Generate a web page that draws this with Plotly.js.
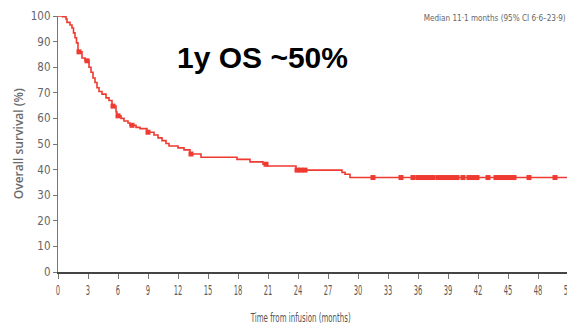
<!DOCTYPE html>
<html>
<head>
<meta charset="utf-8">
<script src="https://cdn.plot.ly/plotly-3.0.1.min.js"></script>
<style>
  html, body { margin: 0; padding: 0; background: #fff; overflow: hidden; }
  #chart { width: 568px; height: 325px; }
</style>
</head>
<body>
<div id="chart"></div>
<script>
// Kaplan–Meier overall survival: step times (months) and survival (%) after each step
const stepMonths = [0, 0.45, 0.8, 0.9, 1.2, 1.4, 1.55, 1.7, 1.85, 2.0, 2.4, 2.7, 3.1, 3.3, 3.5, 3.7, 3.9, 4.1,
  4.4, 4.8, 5.1, 5.4, 5.8, 5.9, 6.3, 6.6, 7.0, 7.2, 7.8, 8.2, 8.9, 9.6, 10.0, 10.4, 10.8, 11.1,
  12.0, 12.6, 13.2, 14.3, 17.9, 19.2, 20.5, 20.9, 23.8, 28.4, 28.7, 29.2];
const stepSurvival = [100, 99.7, 98.8, 97.5, 96.5, 95.3, 93.4, 91.5, 89.5, 86, 83.6, 82.5, 80, 78, 75.8, 74, 72, 70.5,
  69.5, 68, 67, 64.8, 62.5, 61, 60, 59, 58.2, 57.3, 56.5, 56, 54.6, 53.5, 52.4, 51.3, 50.2, 49.2,
  48.5, 47.7, 46.1, 44.8, 44.0, 43.0, 42.1, 41.4, 39.8, 38.9, 38.2, 36.9];
const lastMonth = 51;

// Censored patients (months)
const censorMonths = [2.1, 2.9, 5.5, 6.0, 7.4, 9.0, 13.3, 20.8, 23.9, 24.3, 24.7, 31.5, 34.3, 35.5,
  36.0, 36.4, 36.8, 37.2, 37.5, 38.0, 38.4, 38.8, 39.2, 39.6, 39.9, 40.5, 41.1, 41.5, 41.9,
  43.0, 43.8, 44.2, 44.6, 45.0, 45.3, 45.6, 47.1, 49.7];

const xTicks = [0, 3, 6, 9, 12, 15, 18, 21, 24, 27, 30, 33, 36, 39, 42, 45, 48, 51];
const yTicks = [0, 10, 20, 30, 40, 50, 60, 70, 80, 90, 100];

const headline = '1y OS ~50%';
const medianNote = 'Median 11·1 months (95% CI 6·6–23·9)';
const xLabel = 'Time from infusion (months)';
const yLabel = 'Overall survival (%)';

// survival at time t from the step function
function survivalAt(t) {
  let s = stepSurvival[0];
  for (let i = 0; i < stepMonths.length; i++) {
    if (stepMonths[i] <= t) s = stepSurvival[i]; else break;
  }
  return s;
}

const red = '#ee3a30';
const narrow = '"Liberation Sans Narrow", "DejaVu Sans Condensed", sans-serif';

const curve = {
  x: stepMonths.concat([lastMonth]),
  y: stepSurvival.concat([stepSurvival[stepSurvival.length - 1]]),
  mode: 'lines',
  line: { shape: 'hv', color: red, width: 1.6 },
  hoverinfo: 'skip',
  cliponaxis: false
};

const censors = {
  x: censorMonths,
  y: censorMonths.map(survivalAt),
  mode: 'markers',
  marker: { symbol: 'square', size: 5, color: red },
  hoverinfo: 'skip',
  cliponaxis: false
};

const layout = {
  width: 568,
  height: 325,
  margin: { l: 58, r: 0, t: 16, b: 53 },
  paper_bgcolor: '#fff',
  plot_bgcolor: '#fff',
  showlegend: false,
  xaxis: {
    range: [0, lastMonth],
    tickvals: xTicks,
    ticktext: xTicks.map(String),
    ticks: 'outside',
    ticklen: 5,
    tickwidth: 1,
    tickcolor: '#777',
    ticklabeloverflow: 'allow',
    showline: true,
    linecolor: '#444',
    linewidth: 1.5,
    showgrid: false,
    zeroline: false,
    tickfont: { family: narrow, size: 13.5, color: '#5c5c5c' }
  },
  yaxis: {
    range: [0, 100],
    tickvals: yTicks,
    ticktext: yTicks.map(String),
    ticks: 'outside',
    ticklen: 4,
    tickwidth: 1,
    tickcolor: '#777',
    showline: true,
    linecolor: '#777',
    linewidth: 1.2,
    showgrid: false,
    zeroline: false,
    tickfont: { family: narrow, size: 11.5, color: '#666' }
  },
  annotations: [
    {
      text: '<b>' + headline + '</b>',
      xref: 'paper', yref: 'paper', x: 0.40, y: 0.836,
      xanchor: 'center', yanchor: 'middle', showarrow: false,
      font: { family: '"Liberation Sans", Arial, sans-serif', size: 30, color: '#000' }
    },
    {
      text: medianNote,
      xref: 'paper', yref: 'paper', x: 0.855, y: 0.996,
      xanchor: 'center', yanchor: 'middle', showarrow: false,
      font: { family: narrow, size: 9.2, color: '#666' }
    },
    {
      text: xLabel,
      xref: 'paper', yref: 'paper', x: 0.4745, y: -0.18,
      xanchor: 'center', yanchor: 'middle', showarrow: false,
      font: { family: narrow, size: 12, color: '#555' }
    },
    {
      text: yLabel,
      xref: 'paper', yref: 'paper', x: -0.078, y: 0.5,
      xanchor: 'center', yanchor: 'middle', showarrow: false, textangle: -90,
      font: { family: '"Open Sans", sans-serif', size: 12, color: '#6a6a6a', weight: 600 }
    }
  ]
};

// squeeze a text element to a given advance width (condensed lettering)
function condense(el, width) {
  el.setAttribute('textLength', width);
  el.setAttribute('lengthAdjust', 'spacingAndGlyphs');
}

Plotly.newPlot('chart', [curve, censors], layout, { staticPlot: true, displayModeBar: false })
  .then(function (gd) {
    gd.querySelectorAll('.xtick text').forEach(function (t) {
      condense(t, t.textContent.length * 4.3);
    });
    gd.querySelectorAll('.annotation-text').forEach(function (t) {
      if (t.textContent === medianNote) condense(t, 142);
      if (t.textContent === xLabel) condense(t, 100);
    });
  });
</script>
</body>
</html>
